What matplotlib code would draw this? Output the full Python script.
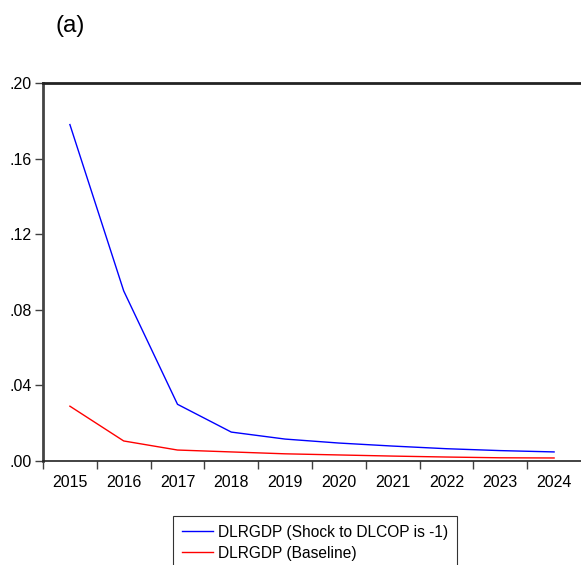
import matplotlib.pyplot as plt
from matplotlib import rcParams
rcParams['font.family'] = ['Liberation Sans', 'DejaVu Sans']

years = ["2015", "2016", "2017", "2018", "2019", "2020", "2021", "2022", "2023", "2024"]
shock = [0.178, 0.090, 0.030, 0.0153, 0.0116, 0.0095, 0.0079, 0.0065, 0.0055, 0.0048]
baseline = [0.029, 0.0106, 0.0058, 0.0048, 0.0038, 0.0032, 0.0026, 0.0021, 0.0017, 0.0016]
y_ticks = [0.00, 0.04, 0.08, 0.12, 0.16, 0.20]
y_labels = [".00", ".04", ".08", ".12", ".16", ".20"]

fig = plt.figure(figsize=(5.81, 5.65), dpi=100)
ax = fig.add_axes([43 / 581, 104 / 565, 538 / 581, 378 / 565])

x = list(range(len(years)))
l1, = ax.plot(x, shock, color="#0000ff", lw=1.0, label="DLRGDP (Shock to DLCOP is -1)")
l2, = ax.plot(x, baseline, color="#ff0000", lw=1.0, label="DLRGDP (Baseline)")

ax.set_xlim(-0.5, len(years) - 0.5)
ax.set_ylim(0, 0.20)
ax.set_yticks(y_ticks)
ax.set_yticklabels(y_labels)
ax.set_xticks(x)
ax.set_xticklabels(years)
ax.set_xticks([i - 0.5 for i in x], minor=True)
ax.tick_params(axis="x", which="major", length=0, pad=10, labelsize=11.5)
ax.tick_params(axis="x", which="minor", length=6, width=1, color="#404040", direction="out")
ax.tick_params(axis="y", length=6, width=1, color="#404040", direction="out", labelsize=11.5, pad=2)

ax.spines["right"].set_visible(False)
ax.spines["top"].set_linewidth(2)
ax.spines["top"].set_color("#222222")
ax.spines["left"].set_linewidth(2)
ax.spines["left"].set_color("#444444")
ax.spines["bottom"].set_linewidth(1.2)
ax.spines["bottom"].set_color("#222222")

fig.text(70 / 581, 1 - 26 / 565, "(a)", fontsize=17.5, va="center", ha="center")

# legend runs past the bottom edge, as in the original
leg = fig.legend(handles=[l1, l2], loc="upper left", bbox_to_anchor=(173 / 581, 1 - 516 / 565),
                 fontsize=11.2, frameon=True, fancybox=False, handlelength=2.0, handletextpad=0.35,
                 labelspacing=0.4, borderpad=0.55, borderaxespad=0)
leg.get_frame().set_edgecolor("black")
leg.get_frame().set_linewidth(0.8)

fig.savefig("out.png", dpi=100)
